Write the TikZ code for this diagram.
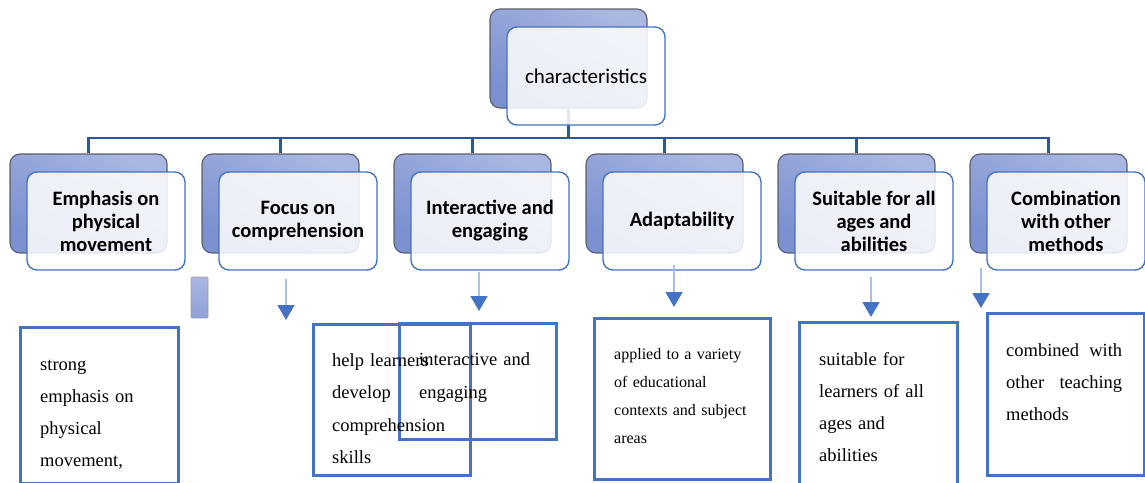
\documentclass[tikz,border=0pt]{standalone}
\usepackage{fontspec}
\setmainfont{Liberation Serif}
\newfontfamily\carlito{Carlito}
\usepackage{tikz}
\usetikzlibrary{positioning, arrows.meta, calc}
\definecolor{busblue}{HTML}{2F5597}
\definecolor{edgeblue}{HTML}{4472C4}
\definecolor{shaftblue}{HTML}{A9BFE6}
\definecolor{backlight}{HTML}{AAB7E1}
\definecolor{backdark}{HTML}{7C8FCF}
\definecolor{backline}{HTML}{5B5E70}

\begin{document}
\begin{tikzpicture}[x=1pt, y=-1pt,
    back/.style={draw=backline, line width=1.1pt, rounded corners=10pt, minimum width=157pt, minimum height=99pt, inner sep=0pt, top color=backlight, bottom color=backdark, shading angle=-30},
    front/.style={draw=edgeblue, line width=1.4pt, rounded corners=10pt, minimum width=158pt, minimum height=98pt, inner sep=0pt, fill=white, fill opacity=0.85, text opacity=1, align=center, font=\carlito\bfseries\fontsize{20.5}{23}\selectfont},
    busline/.style={draw=busblue, line width=2.4pt},
    notebox/.style={draw=edgeblue, line width=2.7pt, anchor=north west, inner sep=0pt},
    notetext/.style={anchor=base west, align=left, inner sep=0pt, text width=140pt, font=\fontsize{18.5}{32.5}\selectfont},
    downarrow/.style={draw=shaftblue, line width=1.5pt, -{Triangle[length=15pt, width=17pt, color=edgeblue]}}]
  \useasboundingbox (0,0) rectangle (1145,482);
  % top of the tree
  \node[back] (top) at (568.5,58.5) {};
  \coordinate (bus) at (0,138);
  \draw[busline] (top.south) -- (top.south |- bus);
  % second row, back plates
  \node[back] (bk1) at (88.5,203.5) {};
  \node[back] (bk2) at (280.5,203.5) {};
  \node[back] (bk3) at (472.5,203.5) {};
  \node[back] (bk4) at (664.5,203.5) {};
  \node[back] (bk5) at (856.5,203.5) {};
  \node[back] (bk6) at (1048.5,203.5) {};
  \foreach \i in {1,...,6}
    \draw[busline] (bk\i.north) |- (top.south |- bus);
  % front plates
  \node[front, font=\carlito\fontsize{21}{25}\selectfont] (topf) at ($(top)+(17.5,17.5)$) {characteristics};
  \node[front] (f1) at ($(bk1)+(17.5,17.5)$) {Emphasis on\\physical\\movement};
  \node[front] (f2) at ($(bk2)+(17.5,17.5)$) {Focus on\\comprehension};
  \node[front] (f3) at ($(bk3)+(17.5,17.5)$) {Interactive and\\engaging};
  \node[front] (f4) at ($(bk4)+(17.5,17.5)$) {Adaptability};
  \node[front] (f5) at ($(bk5)+(17.5,17.5)$) {Suitable for all\\ages and\\abilities};
  \node[front] (f6) at ($(bk6)+(17.5,17.5)$) {Combination\\with other\\methods};
  % arrows down
  \node[draw=backline!60, line width=0.6pt, rounded corners=1pt, minimum width=17pt, minimum height=41pt, inner sep=0pt, top color=backlight, bottom color=backdark!85] (stub) at (199.5,297.5) {};
  \foreach \n/\x/\ya/\yb in {2/286/279/320, 3/479/272/311, 4/674/265/307, 5/871/277/317, 6/981/268/308} {
    \coordinate (s\n) at (\x,\ya);
    \coordinate (e\n) at (\x,\yb);
    \draw[downarrow] (s\n) -- (e\n);
  }
  % notes
  \node[notebox, minimum width=158pt, minimum height=156pt] (bA) at (19,326) {};
  \node[notebox, minimum width=157pt, minimum height=151pt] (bB) at (312,323) {};
  \node[notebox, minimum width=157pt, minimum height=116pt] (bC) at (398,322) {};
  \node[notebox, minimum width=176pt, minimum height=161pt] (bD) at (593,317) {};
  \node[notebox, minimum width=158pt, minimum height=170pt] (bE) at (798,321) {};
  \node[notebox, minimum width=157pt, minimum height=162pt] (bF) at (986,312) {};
  \node[notetext, font=\fontsize{18.5}{32}\selectfont] (tA) at (40,370) {strong\\emphasis on\\physical\\movement,};
  \node[notetext] (tB) at (332,366) {help learners\\develop\\comprehension\\skills};
  \node[notetext, font=\fontsize{18.5}{33}\selectfont] (tC) at (419,365) {interactive and\\engaging};
  \node[notetext, text width=150pt, font=\fontsize{16}{28}\selectfont] (tD) at (614,359) {applied to a variety\\of educational\\contexts and subject\\areas};
  \node[notetext, font=\fontsize{18.5}{32}\selectfont] (tE) at (819,365) {suitable for\\learners of all\\ages and\\abilities};
  \node[notetext, text width=116pt, font=\fontsize{18.5}{32}\selectfont] (tF) at (1006,356) {combined\hfill with\\other\hfill teaching\\methods};
\end{tikzpicture}
\end{document}
